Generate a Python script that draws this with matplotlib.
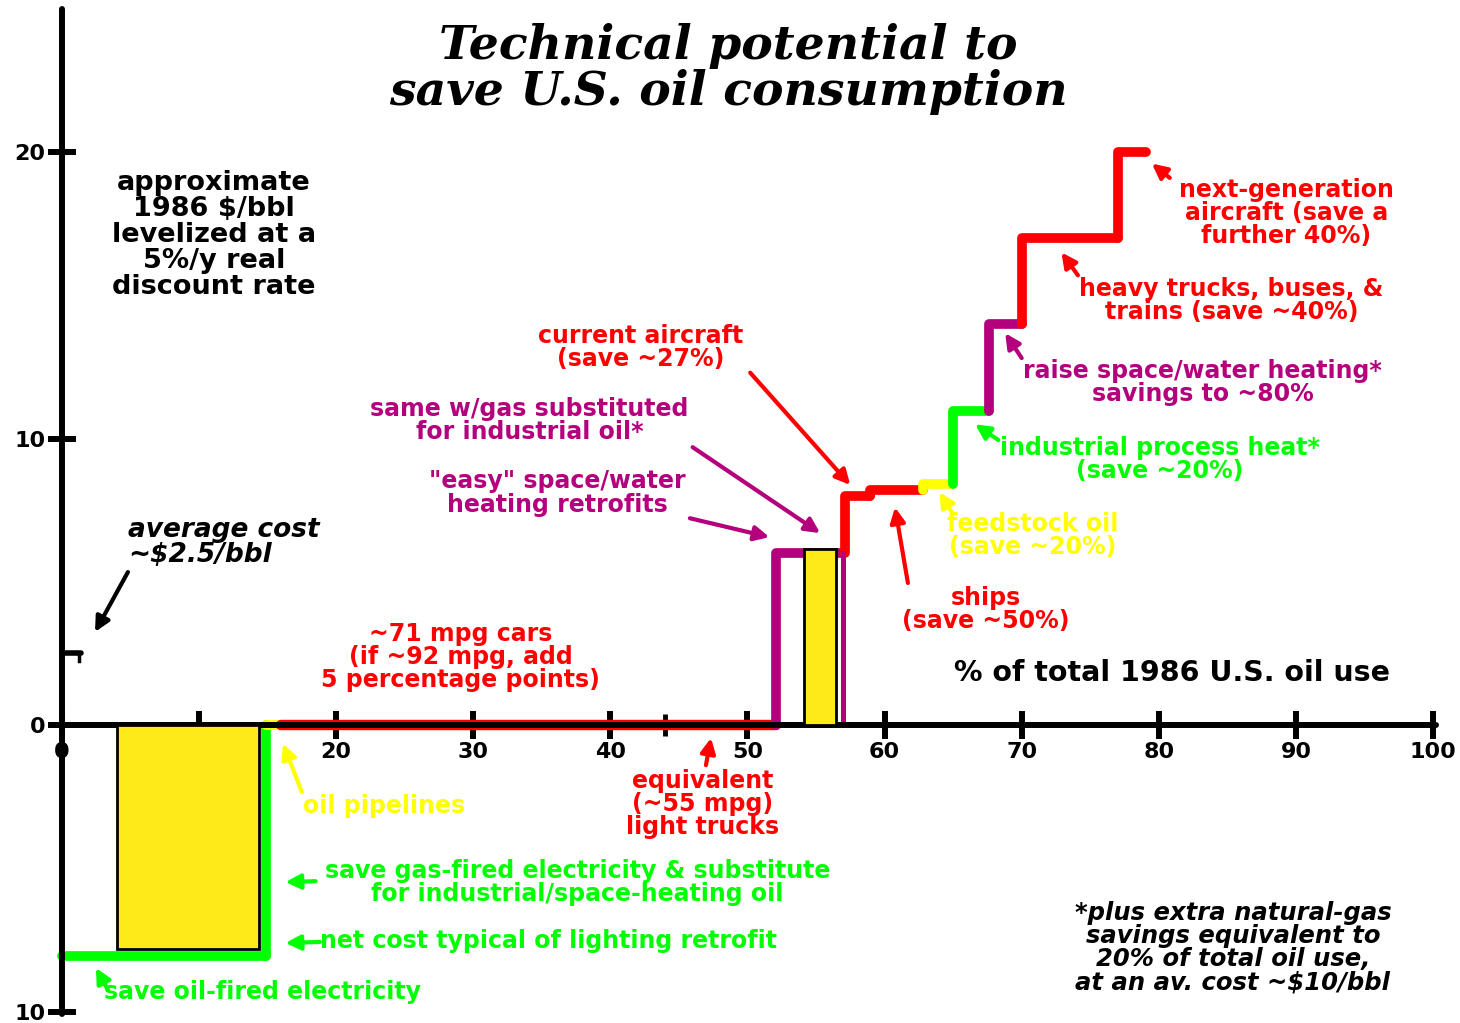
import matplotlib
matplotlib.use("Agg")
import matplotlib.pyplot as plt
from matplotlib.patches import Rectangle

plt.rcParams["font.family"] = ["DejaVu Sans"]
plt.rcParams["font.weight"] = "bold"

RED = "#ff0000"
GREEN = "#00ff00"
YELLOW = "#ffff00"
BAR_YELLOW = "#ffea19"
PURPLE = "#b4007c"

# supply curve: each measure covers measure_start..measure_end (% of 1986 US oil use)
# at a levelized cost in 1986 $/bbl
measure_start = [0.0, 14.9, 14.9, 16.0, 44.0, 52.1, 57.1, 58.9, 62.8, 65.0, 67.6, 70.0, 77.0]
measure_end = [14.9, 14.9, 16.0, 44.0, 52.1, 57.0, 58.9, 62.8, 65.0, 67.6, 70.0, 77.0, 79.1]
measure_cost = [-8.05, 0.0, 0.0, 0.0, 0.0, 6.0, 8.0, 8.2, 8.4, 10.95, 14.0, 17.0, 20.0]
measure_color = [GREEN, GREEN, YELLOW, RED, RED, PURPLE, RED, RED, YELLOW, GREEN, PURPLE, RED, RED]

# lighting retrofit net cost and the gas-substitution variant, drawn as boxes
lighting_span = (4.0, 14.4)
lighting_cost = -7.8
gas_sub_span = (54.1, 56.45)
gas_sub_cost = 6.15

avg_cost = 2.5

x_ticks = list(range(0, 101, 10))
y_ticks = [-10, 0, 10, 20]
y_tick_labels = ["10", "0", "10", "20"]

fig = plt.figure(figsize=(14.6, 10.23), dpi=100)
ax = fig.add_axes([0, 0, 1, 1])
ax.set_xlim(-4.52, 101.97)
ax.set_ylim(-10.40, 25.31)

for side in ["top", "right"]:
    ax.spines[side].set_visible(False)
ax.spines["left"].set_position(("data", 0))
ax.spines["bottom"].set_position(("data", 0))
ax.spines["left"].set_bounds(-10.1, 25.0)
ax.spines["bottom"].set_bounds(-0.3, 100.2)
for side in ["left", "bottom"]:
    ax.spines[side].set_linewidth(4.3)
    ax.spines[side].set_capstyle("round")

ax.set_xticks(x_ticks)
ax.set_xticks([44], minor=True)
ax.set_yticks(y_ticks)
ax.set_yticklabels(y_tick_labels)
ax.tick_params(which="major", direction="inout", length=20, width=4.3, labelsize=16, pad=2)
ax.tick_params(which="minor", direction="inout", length=16, width=3.5)

# step curve
prev = measure_cost[0]
for x0, x1, c, col in zip(measure_start, measure_end, measure_cost, measure_color):
    lw = 7.5 if (c == 0 and col == RED) else 7
    ax.plot([x0, x0, x1], [prev, c, c], color=col, lw=lw,
            solid_joinstyle="round", solid_capstyle="round", zorder=2)
    prev = c

# space/water heating step falls back to zero when gas is substituted
ax.plot([measure_end[5], measure_end[5]], [measure_cost[5], 0], color=PURPLE, lw=3.6, zorder=2)

ax.add_patch(Rectangle((lighting_span[0], lighting_cost), lighting_span[1] - lighting_span[0],
                       -lighting_cost, facecolor=BAR_YELLOW, edgecolor="black", lw=2, zorder=3))
ax.add_patch(Rectangle((gas_sub_span[0], 0), gas_sub_span[1] - gas_sub_span[0],
                       gas_sub_cost, facecolor=BAR_YELLOW, edgecolor="black", lw=2, zorder=3))

# average cost marker on the cost axis
ax.plot([0, 1.4], [avg_cost, avg_cost], color="black", lw=4, solid_capstyle="round", zorder=4)
ax.plot([1.25, 1.25], [avg_cost, avg_cost - 0.25], color="black", lw=2.5, zorder=4)

ax.text(48.6, 22.9, "Technical potential to\nsave U.S. oil consumption", ha="center", va="center",
        family="DejaVu Serif", style="italic", fontsize=34, linespacing=1.0)

ax.text(11.1, 17.1, "approximate\n1986 $/bbl\nlevelized at a\n5%/y real\ndiscount rate",
        ha="center", va="center", fontsize=19.5, linespacing=1.0)
ax.text(4.8, 6.37, "average cost\n~$2.5/bbl", ha="left", va="center", style="italic",
        fontsize=19, linespacing=0.95)
ax.text(85.4, -7.77, "*plus extra natural-gas\nsavings equivalent to\n20% of total oil use,\nat an av. cost ~$10/bbl",
        ha="center", va="center", style="italic", fontsize=17.5, linespacing=0.95)
ax.text(80.96, 1.82, "% of total 1986 U.S. oil use", ha="center", va="center", fontsize=20.5)

labels = [
    ("~71 mpg cars\n(if ~92 mpg, add\n5 percentage points)", 29.1, 2.37, RED, "center"),
    ("equivalent\n(~55 mpg)\nlight trucks", 46.7, -2.76, RED, "center"),
    ("oil pipelines", 17.6, -2.83, YELLOW, "left"),
    ("save gas-fired electricity & substitute\nfor industrial/space-heating oil", 37.6, -5.48, GREEN, "center"),
    ("net cost typical of lighting retrofit", 18.8, -7.54, GREEN, "left"),
    ("save oil-fired electricity", 3.1, -9.32, GREEN, "left"),
    ("ships\n(save ~50%)", 67.4, 4.05, RED, "center"),
    ("feedstock oil\n(save ~20%)", 70.8, 6.63, YELLOW, "center"),
    ("industrial process heat*\n(save ~20%)", 80.1, 9.28, GREEN, "center"),
    ("raise space/water heating*\nsavings to ~80%", 83.2, 11.97, PURPLE, "center"),
    ("heavy trucks, buses, &\ntrains (save ~40%)", 85.3, 14.83, RED, "center"),
    ("next-generation\naircraft (save a\nfurther 40%)", 89.3, 17.87, RED, "center"),
    ("current aircraft\n(save ~27%)", 42.2, 13.19, RED, "center"),
    ("same w/gas substituted\nfor industrial oil*", 34.1, 10.63, PURPLE, "center"),
    ("\"easy\" space/water\nheating retrofits", 36.1, 8.10, PURPLE, "center"),
]
for text, x, y, col, ha in labels:
    ax.text(x, y, text, ha=ha, va="center", color=col, fontsize=17, linespacing=0.95)

# arrows: (tail, head, colour)
arrows = [
    ((4.81, 5.34), (2.41, 3.25), "black"),
    ((46.97, -1.40), (47.34, -0.45), RED),
    ((17.5, -2.34), (16.12, -0.65), YELLOW),
    ((18.5, -5.45), (16.3, -5.48), GREEN),
    ((18.8, -7.57), (16.3, -7.61), GREEN),
    ((3.36, -9.25), (2.48, -8.48), GREEN),
    ((61.7, 4.96), (60.76, 7.6), RED),
    ((64.9, 7.43), (64.0, 8.13), YELLOW),
    ((68.3, 9.95), (66.6, 10.5), GREEN),
    ((70.0, 12.81), (68.8, 13.68), PURPLE),
    ((74.1, 15.7), (72.9, 16.5), RED),
    ((80.8, 19.1), (79.5, 19.6), RED),
    ((50.2, 12.3), (57.5, 8.38), RED),
    ((46.0, 9.70), (55.3, 6.70), PURPLE),
    ((45.8, 7.22), (51.6, 6.56), PURPLE),
]
for tail, head, col in arrows:
    ax.annotate("", xy=head, xytext=tail,
                arrowprops=dict(arrowstyle="-|>", color=col, lw=3, mutation_scale=22,
                                shrinkA=0, shrinkB=0), zorder=5)

fig.savefig("out.png", dpi=100, facecolor="white")
